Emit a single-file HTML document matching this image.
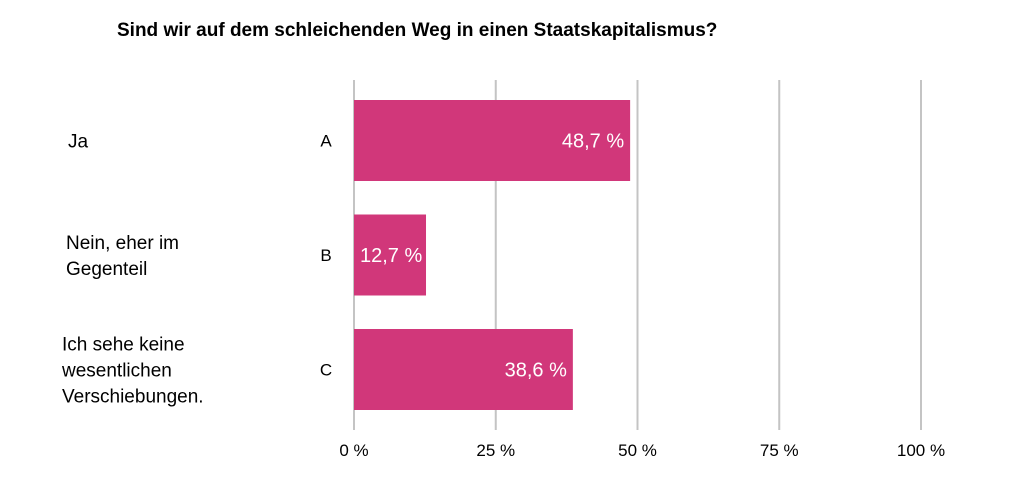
<!DOCTYPE html>
<html><head><meta charset="utf-8"><style>
body{margin:0;background:#fff;width:1024px;height:487px;overflow:hidden;font-family:"Liberation Sans",Arial,sans-serif;}
</style></head><body>
<svg width="1024" height="487" id="c">
<text x="117" y="36" font-size="19" font-weight="bold" fill="#000">Sind wir auf dem schleichenden Weg in einen Staatskapitalismus?</text>
<g id="grid"></g><g id="bars"></g><g id="labels"></g>
</svg>
<script>
const categories=["A","B","C"];
const answers=[["Ja"],["Nein, eher im","Gegenteil"],["Ich sehe keine","wesentlichen","Verschiebungen."]];
const values=[48.7,12.7,38.6];
const valueLabels=["48,7 %","12,7 %","38,6 %"];
const ticks=[0,25,50,75,100];
const tickLabels=["0 %","25 %","50 %","75 %","100 %"];
const NS="http://www.w3.org/2000/svg";
const x=v=>354+v*5.67;
const bandTop=i=>100+i*114.5, bandH=81;
function mk(t,a,p){const e=document.createElementNS(NS,t);for(const k in a)e.setAttribute(k,a[k]);p.appendChild(e);return e;}
const svg=document.getElementById('c');
const grid=document.getElementById('grid'),bars=document.getElementById('bars'),labels=document.getElementById('labels');
ticks.forEach((t,i)=>{
  const l=mk('line',{x1:x(t),x2:x(t),y1:80,y2:430,stroke:'#c4c4c4','stroke-width':2},grid);
  
  
  const tx=mk('text',{x:x(t),y:456,'font-size':17,'text-anchor':'middle',fill:'#000'},grid);
  tx.textContent=tickLabels[i];
  
  
});
const defs=mk('defs',{},svg);
values.forEach((v,i)=>{
  const y0=bandTop(i), w=x(v)-x(0);
  const r=mk('rect',{x:x(0),y:y0,width:w,height:bandH,fill:'#d1377a'},bars);
  
  
  const cp=mk('clipPath',{id:'cp'+i},defs);
  mk('rect',{x:x(0),y:y0,width:w,height:bandH},cp);
  const fits=w>110;
  const vt=mk('text',{x:fits?x(v)-6:x(0)+6,y:y0+bandH/2+7,'font-size':20,fill:'#fff','text-anchor':fits?'end':'start','clip-path':'url(#cp'+i+')'},bars);
  vt.textContent=valueLabels[i];
  
  
  const ct=mk('text',{x:326,y:y0+bandH/2+6,'font-size':17,'text-anchor':'middle',fill:'#000'},labels);
  ct.textContent=categories[i];
  
  
  const lines=answers[i], lh=26, start=y0+bandH/2+7-(lines.length-1)*lh/2;
  const at=mk('text',{'font-size':19,fill:'#000'},labels);
  
  
  lines.forEach((s,j)=>{const ts=mk('tspan',{x:i==0?68:(i==1?66:62),y:start+j*lh},at);ts.textContent=s;});
});
</script>
</body></html>
